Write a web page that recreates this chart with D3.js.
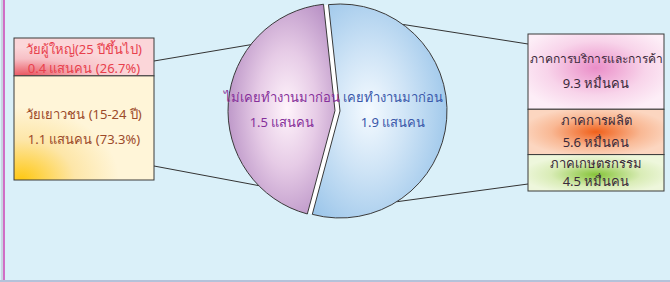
<!DOCTYPE html>
<html>
<head>
<meta charset="utf-8">
<script src="https://cdn.jsdelivr.net/npm/d3@7"></script>
<style>
  body { margin: 0; background: #daf0f9; }
  svg { display: block; font-family: Tahoma, "Noto Sans", "DejaVu Sans", sans-serif; }
</style>
</head>
<body>
<script>
// pie: unemployed by work history (แสนคน)
var pieLabels = ['ไม่เคยทำงานมาก่อน', 'เคยทำงานมาก่อน'];
var pieValues = [1.5, 1.9];
var pieUnits = ['1.5 แสนคน', '1.9 แสนคน'];

// left stack: never worked, by age
var ageLabels = ['วัยผู้ใหญ่(25 ปีขึ้นไป)', 'วัยเยาวชน (15-24 ปี)'];
var ageValues = [0.4, 1.1];
var ageTexts = ['0.4 แสนคน (26.7%)', '1.1 แสนคน (73.3%)'];

// right stack: worked before, by sector (หมื่นคน)
var sectorLabels = ['ภาคการบริการและการค้า', 'ภาคการผลิต', 'ภาคเกษตรกรรม'];
var sectorValues = [9.3, 5.6, 4.5];
var sectorTexts = ['9.3 หมื่นคน', '5.6 หมื่นคน', '4.5 หมื่นคน'];

var width = 670, height = 282;
var svg = d3.select('body').append('svg').attr('width', width).attr('height', height);
var defs = svg.append('defs');

function radial(id, cx, cy, r, stops) {
    var g = defs.append('radialGradient').attr('id', id)
        .attr('cx', cx).attr('cy', cy).attr('r', r).attr('fx', cx).attr('fy', cy);
    stops.forEach(function (s) {
        g.append('stop').attr('offset', s[0]).attr('stop-color', s[1]);
    });
}

radial('gPurple', 0.55, 0.5, 0.62, [[0, '#fff4fb'], [0.45, '#e6cbe6'], [1, '#b48cc2']]);
radial('gBlue', 0.42, 0.5, 0.62, [[0, '#f4faff'], [0.45, '#cfe4f6'], [1, '#9cc6ea']]);
radial('gAge0', 0.08, 1.0, 0.75, [[0, '#e9545f'], [0.6, '#f7c0c6'], [1, '#fbd6d9']]);
radial('gAge1', 0.05, 1.0, 0.7, [[0, '#ffc812'], [0.55, '#fde6a8'], [1, '#fff5d8']]);
radial('gSec0', 0.5, 0.45, 0.6, [[0, '#ea8ec8'], [0.6, '#f8d4ea'], [1, '#fdeef7']]);
radial('gSec1', 0.5, 0.5, 0.55, [[0, '#f0601a'], [0.6, '#f9b894'], [1, '#fcd6c0']]);
radial('gSec2', 0.5, 0.55, 0.55, [[0, '#86c43a'], [0.6, '#d9ecb6'], [1, '#eef7dc']]);

// frame lines
svg.append('line').attr('x1', 2).attr('x2', 2).attr('y1', 0).attr('y2', height)
    .attr('stroke', '#b8b8c8').attr('stroke-width', 1);
svg.append('line').attr('x1', 4).attr('x2', 4).attr('y1', 0).attr('y2', height)
    .attr('stroke', '#d06ec6').attr('stroke-width', 2);
svg.append('line').attr('x1', 0).attr('x2', width).attr('y1', 281).attr('y2', 281)
    .attr('stroke', '#b4c2da').attr('stroke-width', 2);

// pie geometry
var cx = 340, cy = 111, R = 107;
var deg = Math.PI / 180;
var pie = d3.pie().sort(null).startAngle(195 * deg).endAngle(555 * deg);
var arcs = pie(pieValues);
var arc = d3.arc().innerRadius(0).outerRadius(R);

function onCircle(a) { return [cx + R * Math.sin(a * deg), cy - R * Math.cos(a * deg)]; }

// stacks
var leftX = 14, leftW = 140, leftTop = 38, leftH = 142;
var rightX = 528, rightW = 136, rightTop = 34, rightH = 157;

var yAge = d3.scaleLinear().domain([0, d3.sum(ageValues)]).range([leftTop, leftTop + leftH]);
var ySec = d3.scaleLinear().domain([0, d3.sum(sectorValues)]).range([rightTop, rightTop + rightH]);

function stack(values) {
    var acc = 0;
    return values.map(function (v, i) { var s = acc; acc += v; return { i: i, y0: s, y1: acc, v: v }; });
}
var ageStack = stack(ageValues);
var secStack = stack(sectorValues);

// connector lines (behind the pie)
var links = [
    [[leftX + leftW, 61], onCircle(-51)],
    [[leftX + leftW, 166], onCircle(-135)],
    [[rightX, 44], onCircle(36)],
    [[rightX, 184], onCircle(148)]
];
svg.append('g').selectAll('line').data(links).enter().append('line')
    .attr('x1', function (d) { return d[0][0]; }).attr('y1', function (d) { return d[0][1]; })
    .attr('x2', function (d) { return d[1][0]; }).attr('y2', function (d) { return d[1][1]; })
    .attr('stroke', '#333').attr('stroke-width', 1);

// pie
var gp = svg.append('g').attr('transform', 'translate(' + cx + ',' + cy + ')');
gp.append('circle').attr('r', R).attr('fill', '#ffffff');
var explode = [5, 0];
var fills = ['url(#gPurple)', 'url(#gBlue)'];
gp.selectAll('path').data(arcs).enter().append('path')
    .attr('d', arc)
    .attr('transform', function (d, i) {
        var m = (d.startAngle + d.endAngle) / 2;
        return 'translate(' + (explode[i] * Math.sin(m)) + ',' + (-explode[i] * Math.cos(m)) + ')';
    })
    .attr('fill', function (d, i) { return fills[i]; })
    .attr('stroke', '#3a3a3a').attr('stroke-width', 1);

var pieTextX = [282, 393];
var pieColors = ['#86309a', '#3a58aa'];
pieLabels.forEach(function (t, i) {
    svg.append('text').attr('x', pieTextX[i]).attr('y', 102).attr('text-anchor', 'middle')
        .attr('font-size', 13).attr('fill', pieColors[i]).text(t);
    svg.append('text').attr('x', pieTextX[i]).attr('y', 127).attr('text-anchor', 'middle')
        .attr('font-size', 13).attr('fill', pieColors[i]).text(pieUnits[i]);
});

// left stack boxes
var ageFill = ['url(#gAge0)', 'url(#gAge1)'];
var ageColor = ['#e8404c', '#9c4a2a'];
var gl = svg.append('g');
gl.selectAll('rect').data(ageStack).enter().append('rect')
    .attr('x', leftX).attr('width', leftW)
    .attr('y', function (d) { return yAge(d.y0); })
    .attr('height', function (d) { return yAge(d.y1) - yAge(d.y0); })
    .attr('fill', function (d) { return ageFill[d.i]; })
    .attr('stroke', '#3a3a3a').attr('stroke-width', 1);
ageStack.forEach(function (d) {
    var top = yAge(d.y0), h = yAge(d.y1) - yAge(d.y0);
    var gap = Math.min(25, h / 2);
    var mid = top + h / 2;
    var dy = h < 50 ? 7 : 4;
    gl.append('text').attr('x', leftX + leftW / 2).attr('y', mid - gap / 2 + dy)
        .attr('text-anchor', 'middle').attr('font-size', 13).attr('fill', ageColor[d.i])
        .text(ageLabels[d.i]);
    gl.append('text').attr('x', leftX + leftW / 2).attr('y', mid + gap / 2 + dy)
        .attr('text-anchor', 'middle').attr('font-size', 13).attr('fill', ageColor[d.i])
        .text(ageTexts[d.i]);
});

// right stack boxes
var secFill = ['url(#gSec0)', 'url(#gSec1)', 'url(#gSec2)'];
var gr = svg.append('g');
gr.selectAll('rect').data(secStack).enter().append('rect')
    .attr('x', rightX).attr('width', rightW)
    .attr('y', function (d) { return ySec(d.y0); })
    .attr('height', function (d) { return ySec(d.y1) - ySec(d.y0); })
    .attr('fill', function (d) { return secFill[d.i]; })
    .attr('stroke', '#3a3a3a').attr('stroke-width', 1);
secStack.forEach(function (d) {
    var top = ySec(d.y0), h = ySec(d.y1) - ySec(d.y0);
    var gap = Math.min(25, h / 2);
    var mid = top + h / 2;
    gr.append('text').attr('x', rightX + rightW / 2).attr('y', mid - gap / 2 + 4)
        .attr('text-anchor', 'middle')
        .attr('font-size', sectorLabels[d.i].length > 15 ? 12 : 13)
        .attr('fill', '#3a2a3a')
        .text(sectorLabels[d.i]);
    gr.append('text').attr('x', rightX + rightW / 2).attr('y', mid + gap / 2 + 4)
        .attr('text-anchor', 'middle').attr('font-size', 13).attr('fill', '#3a2a3a')
        .text(sectorTexts[d.i]);
});
</script>
</body>
</html>
